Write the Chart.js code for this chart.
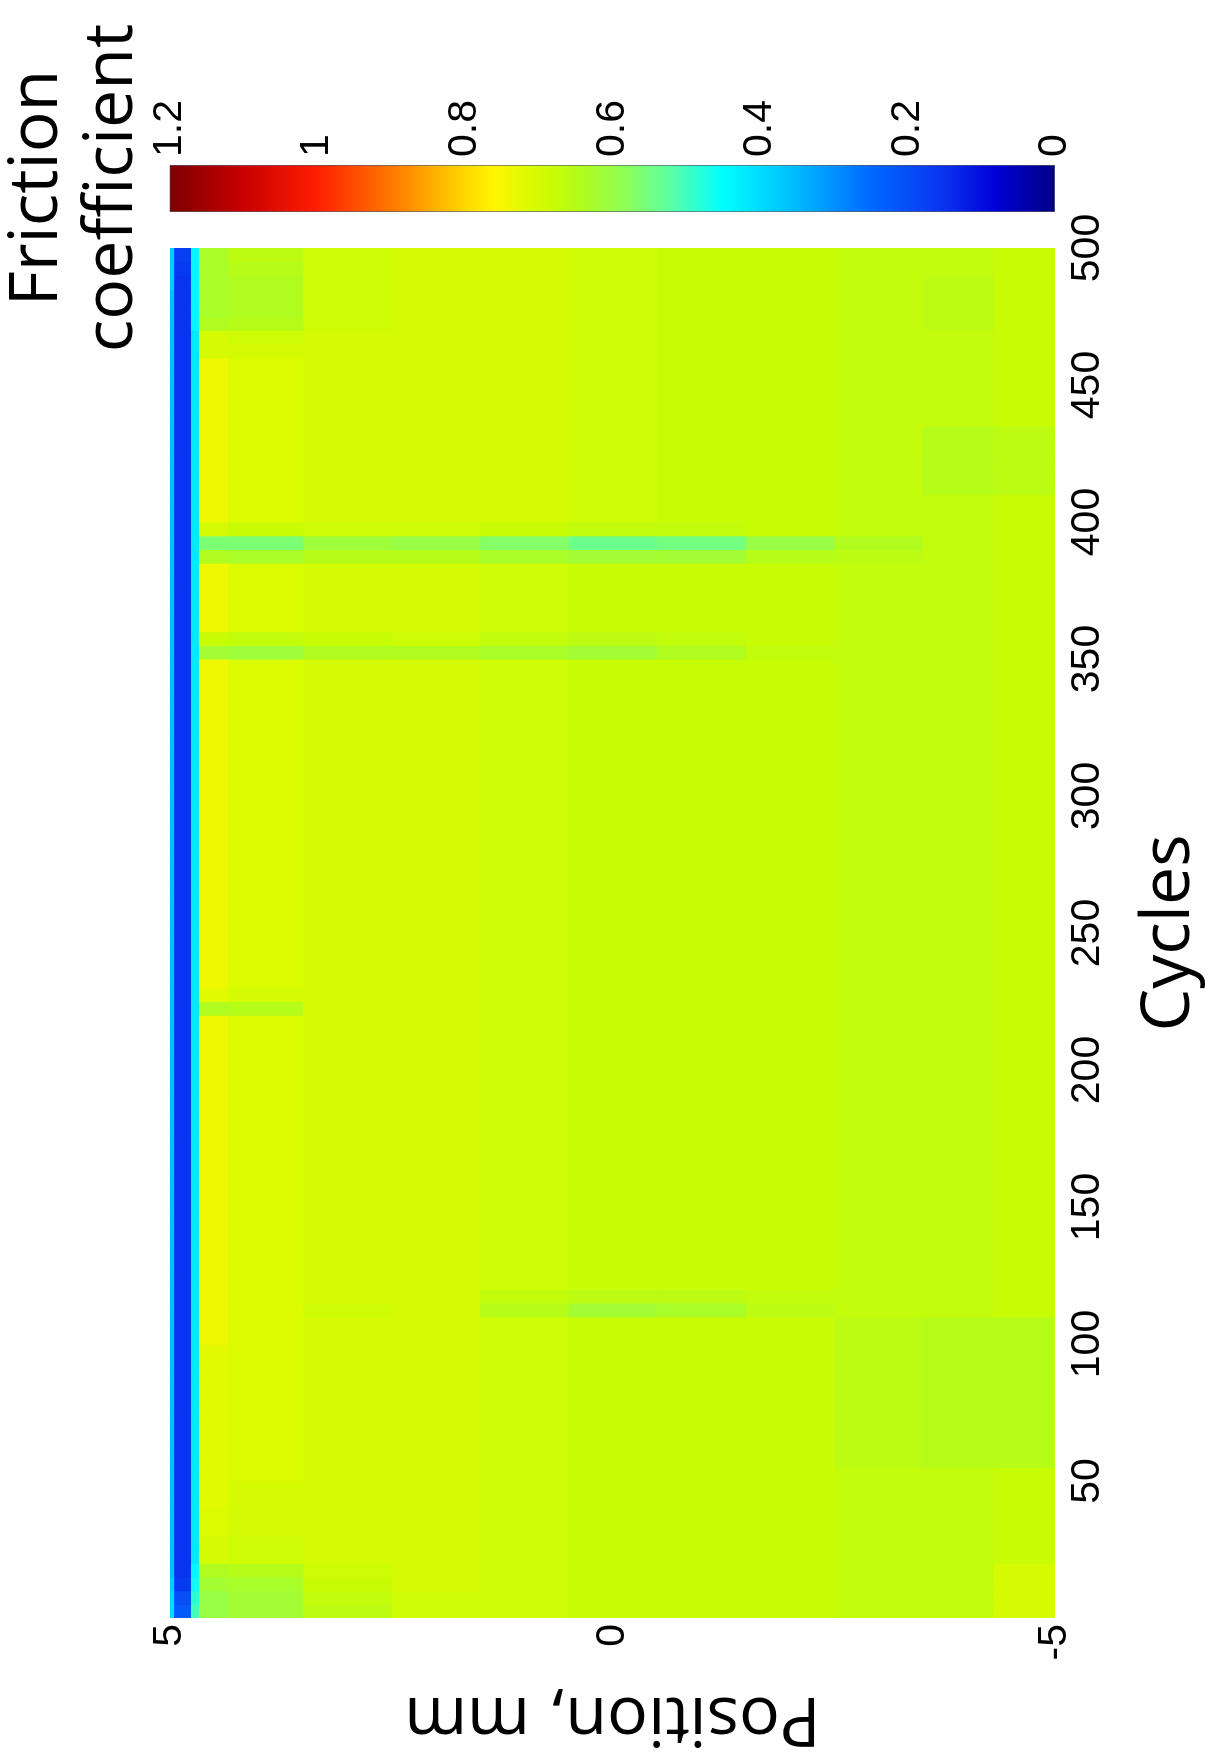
<!DOCTYPE html>
<html>
<head>
<meta charset="utf-8">
<script src="https://cdn.jsdelivr.net/npm/chart.js@4.4.1/dist/chart.umd.min.js"></script>
<style>
html, body { margin: 0; padding: 0; background: #fff; overflow: hidden; width: 1211px; height: 1758px; }
#wrap { position: absolute; left: 0; top: 0; width: 1758px; height: 1211px; background: #fff;
        transform-origin: 0 0; transform: translate(0px, 1758px) rotate(-90deg); }
#main { position: absolute; left: 0; top: 0; }
#cbar { position: absolute; left: 1390px; top: 0; }
</style>
</head>
<body>
<div id="wrap">
  <canvas id="main" width="1758" height="1211"></canvas>
  <canvas id="cbar" width="360" height="1211"></canvas>
</div>
<script>
// ---------------- DATA ----------------
// Cycle bins (start cycle of each 5-cycle column)
const cycleStarts = [0,5,10,15,20,25,30,35,40,45,50,55,60,65,70,75,80,85,90,95,
  100,105,110,115,120,125,130,135,140,145,150,155,160,165,170,175,180,185,190,195,
  200,205,210,215,220,225,230,235,240,245,250,255,260,265,270,275,280,285,290,295,
  300,305,310,315,320,325,330,335,340,345,350,355,360,365,370,375,380,385,390,395,
  400,405,410,415,420,425,430,435,440,445,450,455,460,465,470,475,480,485,490,495];

// Position bin edges (mm), top (5) to bottom (-5)
const positionEdges = [5, 4.96, 4.77, 4.68, 4.35, 3.5, 2.5, 1.5, 0.5, -0.5, -1.5, -2.5, -3.5, -4.3, -5];

// Friction coefficient, one row per position bin, one value per cycle bin
const friction = [
 // 5.00 .. 4.96
 [0.40,0.40,0.38,0.36,0.36,0.36,0.36,0.36,0.36,0.36,
  0.36,0.36,0.36,0.36,0.36,0.36,0.36,0.36,0.36,0.36,
  0.36,0.36,0.36,0.36,0.36,0.36,0.36,0.36,0.36,0.36,
  0.36,0.36,0.36,0.36,0.36,0.36,0.36,0.36,0.36,0.36,
  0.36,0.36,0.36,0.36,0.36,0.36,0.36,0.36,0.36,0.36,
  0.36,0.36,0.36,0.36,0.36,0.36,0.36,0.36,0.36,0.36,
  0.36,0.36,0.36,0.36,0.36,0.36,0.36,0.36,0.36,0.36,
  0.36,0.36,0.36,0.36,0.36,0.36,0.36,0.36,0.36,0.36,
  0.36,0.36,0.36,0.36,0.36,0.36,0.36,0.36,0.36,0.36,
  0.36,0.36,0.36,0.36,0.36,0.36,0.36,0.38,0.38,0.38],
 // 4.96 .. 4.77 (blue band)
 [0.22,0.20,0.16,0.15,0.15,0.15,0.15,0.15,0.15,0.15,
  0.15,0.15,0.15,0.15,0.15,0.15,0.15,0.15,0.15,0.15,
  0.15,0.15,0.15,0.15,0.15,0.15,0.15,0.15,0.15,0.15,
  0.15,0.15,0.15,0.15,0.15,0.15,0.15,0.15,0.15,0.15,
  0.15,0.15,0.15,0.15,0.15,0.15,0.15,0.15,0.15,0.15,
  0.15,0.15,0.15,0.15,0.15,0.15,0.15,0.15,0.15,0.15,
  0.15,0.15,0.15,0.15,0.15,0.15,0.15,0.15,0.15,0.15,
  0.15,0.15,0.15,0.15,0.15,0.15,0.15,0.15,0.15,0.15,
  0.15,0.15,0.15,0.15,0.15,0.15,0.15,0.15,0.15,0.15,
  0.15,0.15,0.15,0.15,0.15,0.15,0.15,0.15,0.16,0.17],
 // 4.77 .. 4.68
 [0.50,0.48,0.46,0.44,0.42,0.42,0.42,0.42,0.42,0.42,
  0.42,0.42,0.42,0.42,0.42,0.42,0.42,0.42,0.42,0.42,
  0.42,0.42,0.42,0.42,0.42,0.42,0.42,0.42,0.42,0.42,
  0.42,0.42,0.42,0.42,0.42,0.42,0.42,0.42,0.42,0.42,
  0.42,0.42,0.42,0.42,0.42,0.42,0.42,0.42,0.42,0.42,
  0.42,0.42,0.42,0.42,0.42,0.42,0.42,0.42,0.42,0.42,
  0.42,0.42,0.42,0.42,0.42,0.42,0.42,0.42,0.42,0.42,
  0.42,0.42,0.42,0.42,0.42,0.42,0.42,0.42,0.42,0.42,
  0.42,0.42,0.42,0.42,0.42,0.42,0.42,0.42,0.42,0.42,
  0.42,0.42,0.42,0.42,0.44,0.44,0.44,0.44,0.44,0.44],
 // 4.68 .. 4.35
 [0.60,0.60,0.62,0.64,0.70,0.70,0.71,0.71,0.72,0.72,
  0.72,0.72,0.72,0.72,0.72,0.72,0.72,0.72,0.72,0.72,
  0.74,0.74,0.74,0.74,0.74,0.74,0.74,0.74,0.74,0.74,
  0.74,0.74,0.74,0.74,0.74,0.74,0.74,0.74,0.74,0.74,
  0.74,0.74,0.74,0.74,0.64,0.72,0.74,0.74,0.74,0.74,
  0.74,0.74,0.74,0.74,0.74,0.74,0.74,0.74,0.74,0.74,
  0.74,0.74,0.74,0.74,0.74,0.74,0.74,0.74,0.74,0.74,
  0.62,0.68,0.74,0.74,0.74,0.74,0.74,0.64,0.56,0.70,
  0.74,0.74,0.74,0.74,0.74,0.74,0.74,0.74,0.74,0.74,
  0.74,0.74,0.70,0.70,0.64,0.63,0.63,0.63,0.63,0.63],
 // 4.35 .. 3.5
 [0.62,0.62,0.63,0.65,0.69,0.69,0.70,0.70,0.70,0.70,
  0.71,0.71,0.71,0.71,0.71,0.71,0.71,0.71,0.71,0.71,
  0.71,0.71,0.71,0.71,0.71,0.71,0.71,0.71,0.71,0.71,
  0.71,0.71,0.71,0.71,0.71,0.71,0.71,0.71,0.71,0.71,
  0.71,0.71,0.71,0.71,0.65,0.70,0.71,0.71,0.71,0.71,
  0.71,0.71,0.71,0.71,0.71,0.71,0.71,0.71,0.71,0.71,
  0.71,0.71,0.71,0.71,0.71,0.71,0.71,0.71,0.71,0.71,
  0.61,0.67,0.71,0.71,0.71,0.71,0.71,0.63,0.56,0.68,
  0.71,0.71,0.71,0.71,0.71,0.71,0.71,0.71,0.71,0.71,
  0.71,0.71,0.70,0.69,0.65,0.64,0.64,0.64,0.65,0.66],
 // 3.5 .. 2.5
 [0.66,0.67,0.68,0.69,0.70,0.70,0.70,0.70,0.70,0.70,
  0.70,0.70,0.70,0.70,0.70,0.70,0.70,0.70,0.70,0.70,
  0.70,0.70,0.69,0.70,0.70,0.70,0.70,0.70,0.70,0.70,
  0.70,0.70,0.70,0.70,0.70,0.70,0.70,0.70,0.70,0.70,
  0.70,0.70,0.70,0.70,0.70,0.70,0.70,0.70,0.70,0.70,
  0.70,0.70,0.70,0.70,0.70,0.70,0.70,0.70,0.70,0.70,
  0.70,0.70,0.70,0.70,0.70,0.70,0.70,0.70,0.70,0.70,
  0.64,0.68,0.70,0.70,0.70,0.70,0.70,0.65,0.61,0.69,
  0.70,0.70,0.70,0.70,0.70,0.70,0.70,0.70,0.70,0.70,
  0.70,0.70,0.70,0.70,0.69,0.69,0.69,0.69,0.69,0.69],
 // 2.5 .. 1.5
 [0.69,0.69,0.70,0.70,0.70,0.70,0.70,0.70,0.70,0.70,
  0.70,0.70,0.70,0.70,0.70,0.70,0.70,0.70,0.70,0.70,
  0.70,0.70,0.70,0.70,0.70,0.70,0.70,0.70,0.70,0.70,
  0.70,0.70,0.70,0.70,0.70,0.70,0.70,0.70,0.70,0.70,
  0.70,0.70,0.70,0.70,0.70,0.70,0.70,0.70,0.70,0.70,
  0.70,0.70,0.70,0.70,0.70,0.70,0.70,0.70,0.70,0.70,
  0.70,0.70,0.70,0.70,0.70,0.70,0.70,0.70,0.70,0.70,
  0.64,0.69,0.70,0.70,0.70,0.70,0.70,0.65,0.60,0.69,
  0.70,0.70,0.70,0.70,0.70,0.70,0.70,0.70,0.70,0.70,
  0.70,0.70,0.70,0.70,0.70,0.70,0.70,0.70,0.70,0.70],
 // 1.5 .. 0.5
 [0.69,0.69,0.69,0.69,0.69,0.69,0.69,0.69,0.69,0.69,
  0.69,0.69,0.69,0.69,0.69,0.69,0.69,0.69,0.69,0.69,
  0.69,0.69,0.65,0.67,0.69,0.69,0.69,0.69,0.69,0.69,
  0.69,0.69,0.69,0.69,0.69,0.69,0.69,0.69,0.69,0.69,
  0.69,0.69,0.69,0.69,0.69,0.69,0.69,0.69,0.69,0.69,
  0.69,0.69,0.69,0.69,0.69,0.69,0.69,0.69,0.69,0.69,
  0.69,0.69,0.69,0.69,0.69,0.69,0.69,0.69,0.69,0.69,
  0.63,0.67,0.69,0.69,0.69,0.69,0.69,0.63,0.57,0.68,
  0.70,0.70,0.70,0.70,0.70,0.70,0.70,0.70,0.70,0.70,
  0.70,0.70,0.70,0.70,0.70,0.70,0.70,0.70,0.70,0.70],
 // 0.5 .. -0.5
 [0.68,0.68,0.68,0.68,0.68,0.68,0.68,0.68,0.68,0.68,
  0.68,0.68,0.68,0.68,0.68,0.68,0.68,0.68,0.68,0.68,
  0.68,0.68,0.62,0.66,0.68,0.68,0.68,0.68,0.68,0.68,
  0.68,0.68,0.68,0.68,0.68,0.68,0.68,0.68,0.68,0.68,
  0.68,0.68,0.68,0.68,0.68,0.68,0.68,0.68,0.68,0.68,
  0.68,0.68,0.68,0.68,0.68,0.68,0.68,0.68,0.68,0.68,
  0.68,0.68,0.68,0.68,0.68,0.68,0.68,0.68,0.68,0.68,
  0.62,0.66,0.68,0.68,0.68,0.68,0.68,0.62,0.54,0.67,
  0.69,0.69,0.69,0.69,0.69,0.69,0.69,0.69,0.69,0.69,
  0.69,0.69,0.69,0.69,0.69,0.69,0.69,0.69,0.69,0.69],
 // -0.5 .. -1.5
 [0.68,0.68,0.68,0.68,0.68,0.68,0.68,0.68,0.68,0.68,
  0.68,0.68,0.68,0.68,0.68,0.68,0.68,0.68,0.68,0.68,
  0.68,0.68,0.63,0.66,0.68,0.68,0.68,0.68,0.68,0.68,
  0.68,0.68,0.68,0.68,0.68,0.68,0.68,0.68,0.68,0.68,
  0.68,0.68,0.68,0.68,0.68,0.68,0.68,0.68,0.68,0.68,
  0.68,0.68,0.68,0.68,0.68,0.68,0.68,0.68,0.68,0.68,
  0.68,0.68,0.68,0.68,0.68,0.68,0.68,0.68,0.68,0.68,
  0.64,0.67,0.68,0.68,0.68,0.68,0.68,0.62,0.55,0.67,
  0.68,0.68,0.68,0.68,0.68,0.68,0.68,0.68,0.68,0.68,
  0.68,0.68,0.68,0.68,0.68,0.68,0.68,0.68,0.68,0.68],
 // -1.5 .. -2.5
 [0.68,0.68,0.68,0.68,0.68,0.68,0.68,0.68,0.68,0.68,
  0.68,0.68,0.68,0.68,0.68,0.68,0.68,0.68,0.68,0.68,
  0.68,0.68,0.66,0.67,0.68,0.68,0.68,0.68,0.68,0.68,
  0.68,0.68,0.68,0.68,0.68,0.68,0.68,0.68,0.68,0.68,
  0.68,0.68,0.68,0.68,0.68,0.68,0.68,0.68,0.68,0.68,
  0.68,0.68,0.68,0.68,0.68,0.68,0.68,0.68,0.68,0.68,
  0.68,0.68,0.68,0.68,0.68,0.68,0.68,0.68,0.68,0.68,
  0.67,0.68,0.68,0.68,0.68,0.68,0.68,0.65,0.60,0.68,
  0.68,0.68,0.68,0.68,0.68,0.68,0.68,0.68,0.68,0.68,
  0.68,0.68,0.68,0.68,0.68,0.68,0.68,0.68,0.68,0.68],
 // -2.5 .. -3.5
 [0.67,0.67,0.67,0.67,0.67,0.67,0.67,0.67,0.67,0.67,
  0.67,0.66,0.66,0.66,0.66,0.66,0.66,0.66,0.66,0.66,
  0.66,0.66,0.67,0.67,0.67,0.67,0.67,0.67,0.67,0.67,
  0.67,0.67,0.67,0.67,0.67,0.67,0.67,0.67,0.67,0.67,
  0.67,0.67,0.67,0.67,0.67,0.67,0.67,0.67,0.67,0.67,
  0.67,0.67,0.67,0.67,0.67,0.67,0.67,0.67,0.67,0.67,
  0.67,0.67,0.67,0.67,0.67,0.67,0.67,0.67,0.67,0.67,
  0.67,0.67,0.67,0.67,0.67,0.67,0.67,0.66,0.64,0.67,
  0.67,0.67,0.67,0.67,0.67,0.67,0.67,0.67,0.67,0.67,
  0.67,0.67,0.67,0.67,0.67,0.67,0.67,0.67,0.67,0.67],
 // -3.5 .. -4.3
 [0.67,0.67,0.67,0.67,0.67,0.67,0.67,0.67,0.67,0.67,
  0.67,0.65,0.65,0.65,0.65,0.65,0.65,0.65,0.65,0.65,
  0.65,0.65,0.67,0.67,0.67,0.67,0.67,0.67,0.67,0.67,
  0.67,0.67,0.67,0.67,0.67,0.67,0.67,0.67,0.67,0.67,
  0.67,0.67,0.67,0.67,0.67,0.67,0.67,0.67,0.67,0.67,
  0.67,0.67,0.67,0.67,0.67,0.67,0.67,0.67,0.67,0.67,
  0.67,0.67,0.67,0.67,0.67,0.67,0.67,0.67,0.67,0.67,
  0.67,0.67,0.67,0.67,0.67,0.67,0.67,0.67,0.67,0.67,
  0.67,0.67,0.65,0.65,0.65,0.65,0.65,0.67,0.67,0.67,
  0.67,0.67,0.67,0.67,0.66,0.66,0.66,0.66,0.67,0.67],
 // -4.3 .. -5
 [0.70,0.70,0.70,0.70,0.68,0.68,0.68,0.68,0.68,0.68,
  0.68,0.65,0.65,0.65,0.65,0.65,0.65,0.65,0.65,0.65,
  0.65,0.65,0.68,0.68,0.68,0.68,0.68,0.68,0.68,0.68,
  0.68,0.68,0.68,0.68,0.68,0.68,0.68,0.68,0.68,0.68,
  0.68,0.68,0.68,0.68,0.68,0.68,0.68,0.68,0.68,0.68,
  0.68,0.68,0.68,0.68,0.68,0.68,0.68,0.68,0.68,0.68,
  0.68,0.68,0.68,0.68,0.68,0.68,0.68,0.68,0.68,0.68,
  0.68,0.68,0.68,0.68,0.68,0.68,0.68,0.68,0.68,0.68,
  0.68,0.68,0.66,0.66,0.66,0.66,0.66,0.68,0.68,0.68,
  0.68,0.68,0.68,0.68,0.68,0.68,0.68,0.68,0.68,0.68]
];

// Tick labels
const cycleTicks = [50, 100, 150, 200, 250, 300, 350, 400, 450, 500];
const positionTicks = [-5, 0, 5];
const colorbarTicks = [0, 0.2, 0.4, 0.6, 0.8, 1, 1.2];

// ---------------- STYLE ----------------
// colour map (value -> rgb), jet-like as shown on the colour bar
const colorStops = [
  [0.00, [0, 0, 130]], [0.08, [0, 0, 215]], [0.15, [10, 50, 240]], [0.25, [0, 105, 255]],
  [0.35, [0, 185, 255]], [0.45, [0, 255, 255]], [0.52, [90, 255, 165]], [0.58, [140, 255, 90]],
  [0.64, [175, 252, 30]], [0.68, [200, 252, 5]], [0.72, [225, 250, 0]], [0.76, [255, 245, 0]],
  [0.80, [255, 215, 0]], [0.90, [255, 120, 0]], [1.00, [255, 30, 0]], [1.10, [200, 0, 0]], [1.20, [125, 0, 0]]
];
function frictionColor(v) {
  if (v <= colorStops[0][0]) return 'rgb(' + colorStops[0][1].join(',') + ')';
  for (let k = 1; k < colorStops.length; k++) {
    const [v1, c1] = colorStops[k];
    const [v0, c0] = colorStops[k - 1];
    if (v <= v1) {
      const t = (v - v0) / (v1 - v0);
      return 'rgb(' + c0.map((a, j) => Math.round(a + (c1[j] - a) * t)).join(',') + ')';
    }
  }
  return 'rgb(' + colorStops[colorStops.length - 1][1].join(',') + ')';
}

Chart.defaults.color = '#000';
Chart.defaults.font.family = "'Liberation Sans', Arial, sans-serif";
const tickFont = { family: "'Liberation Sans', Arial, sans-serif", size: 41 };
const titleFont = { family: "'Open Sans', sans-serif", size: 68, lineHeight: 1.2, weight: 'normal' };

const binWidth = cycleStarts[1] - cycleStarts[0];
const heatDatasets = friction.map((vals, r) => ({
  data: cycleStarts.map(c => ({ x: c + binWidth / 2, y: [positionEdges[r + 1], positionEdges[r]] })),
  backgroundColor: vals.map(frictionColor),
  borderWidth: 0,
  grouped: false,
  barPercentage: 1,
  categoryPercentage: 1,
  inflateAmount: 0.6
}));

new Chart(document.getElementById('main'), {
  type: 'bar',
  data: { datasets: heatDatasets },
  options: {
    responsive: false, animation: false, devicePixelRatio: 1, events: [],
    layout: { padding: { left: 0, top: 170, right: 248, bottom: 0 } },
    plugins: { legend: { display: false }, tooltip: { enabled: false } },
    scales: {
      x: {
        type: 'linear', position: 'bottom', min: 0, max: 500, offset: false,
        grid: { display: false, drawTicks: false }, border: { display: false },
        afterBuildTicks: s => { s.ticks = cycleTicks.map(v => ({ value: v })); },
        ticks: { font: tickFont, color: '#000', padding: 8, maxRotation: 0, minRotation: 0, autoSkip: false },
        title: { display: true, text: 'Cycles', font: titleFont, color: '#000', padding: { top: 0, bottom: 1 } },
        afterFit: s => { s.height = 156; }
      },
      y: {
        type: 'linear', position: 'left', min: -5, max: 5,
        grid: { display: false, drawTicks: false }, border: { display: false },
        afterBuildTicks: s => { s.ticks = positionTicks.map(v => ({ value: v })); },
        ticks: { font: tickFont, color: '#000', padding: 6, autoSkip: false },
        title: { display: true, text: 'Position, mm', font: titleFont, color: '#000', padding: { top: 0, bottom: 0 } },
        afterFit: s => { s.width = 140; }
      }
    }
  }
});

// ---------------- COLOUR BAR ----------------
new Chart(document.getElementById('cbar'), {
  type: 'bar',
  data: {
    labels: ['Friction coefficient'],
    datasets: [{
      data: [[colorbarTicks[0], colorbarTicks[colorbarTicks.length - 1]]],
      yAxisID: 'y',
      backgroundColor: (ctx) => {
        const chart = ctx.chart;
        const ys = chart.scales && chart.scales.y;
        if (!chart.chartArea || !ys) return '#ccc';
        const lo = colorbarTicks[0], hi = colorbarTicks[colorbarTicks.length - 1];
        const g = chart.ctx.createLinearGradient(0, ys.getPixelForValue(lo), 0, ys.getPixelForValue(hi));
        colorStops.forEach(([v, c]) => g.addColorStop((v - lo) / (hi - lo), 'rgb(' + c.join(',') + ')'));
        return g;
      },
      borderColor: 'rgba(20,20,40,0.7)',
      borderWidth: 1,
      borderSkipped: false,
      barPercentage: 1,
      categoryPercentage: 1
    }]
  },
  options: {
    responsive: false, animation: false, devicePixelRatio: 1, events: [],
    layout: { padding: { left: 0, top: 0, right: 0, bottom: 156 } },
    plugins: {
      legend: { display: false }, tooltip: { enabled: false },
      title: {
        display: true, text: ['Friction', 'coefficient'], color: '#000',
        font: { family: "'Open Sans', sans-serif", size: 68, lineHeight: 1.1, weight: 'normal' },
        padding: { top: 0, bottom: 20 }
      }
    },
    scales: {
      x: { type: 'category', display: false },
      yl: {
        type: 'linear', position: 'left', display: true,
        ticks: { display: false }, grid: { display: false }, border: { display: false },
        afterFit: s => { s.width = 156; }
      },
      y: {
        type: 'linear', position: 'right', min: 0, max: 1.2,
        grid: { display: false, drawTicks: false }, border: { display: false },
        afterBuildTicks: s => { s.ticks = colorbarTicks.map(v => ({ value: v })); },
        ticks: { font: tickFont, color: '#000', padding: 8, autoSkip: false,
                 callback: v => String(Number(v.toFixed(2))) },
        afterFit: s => { s.width = 157; }
      }
    }
  }
});
</script>
</body>
</html>
